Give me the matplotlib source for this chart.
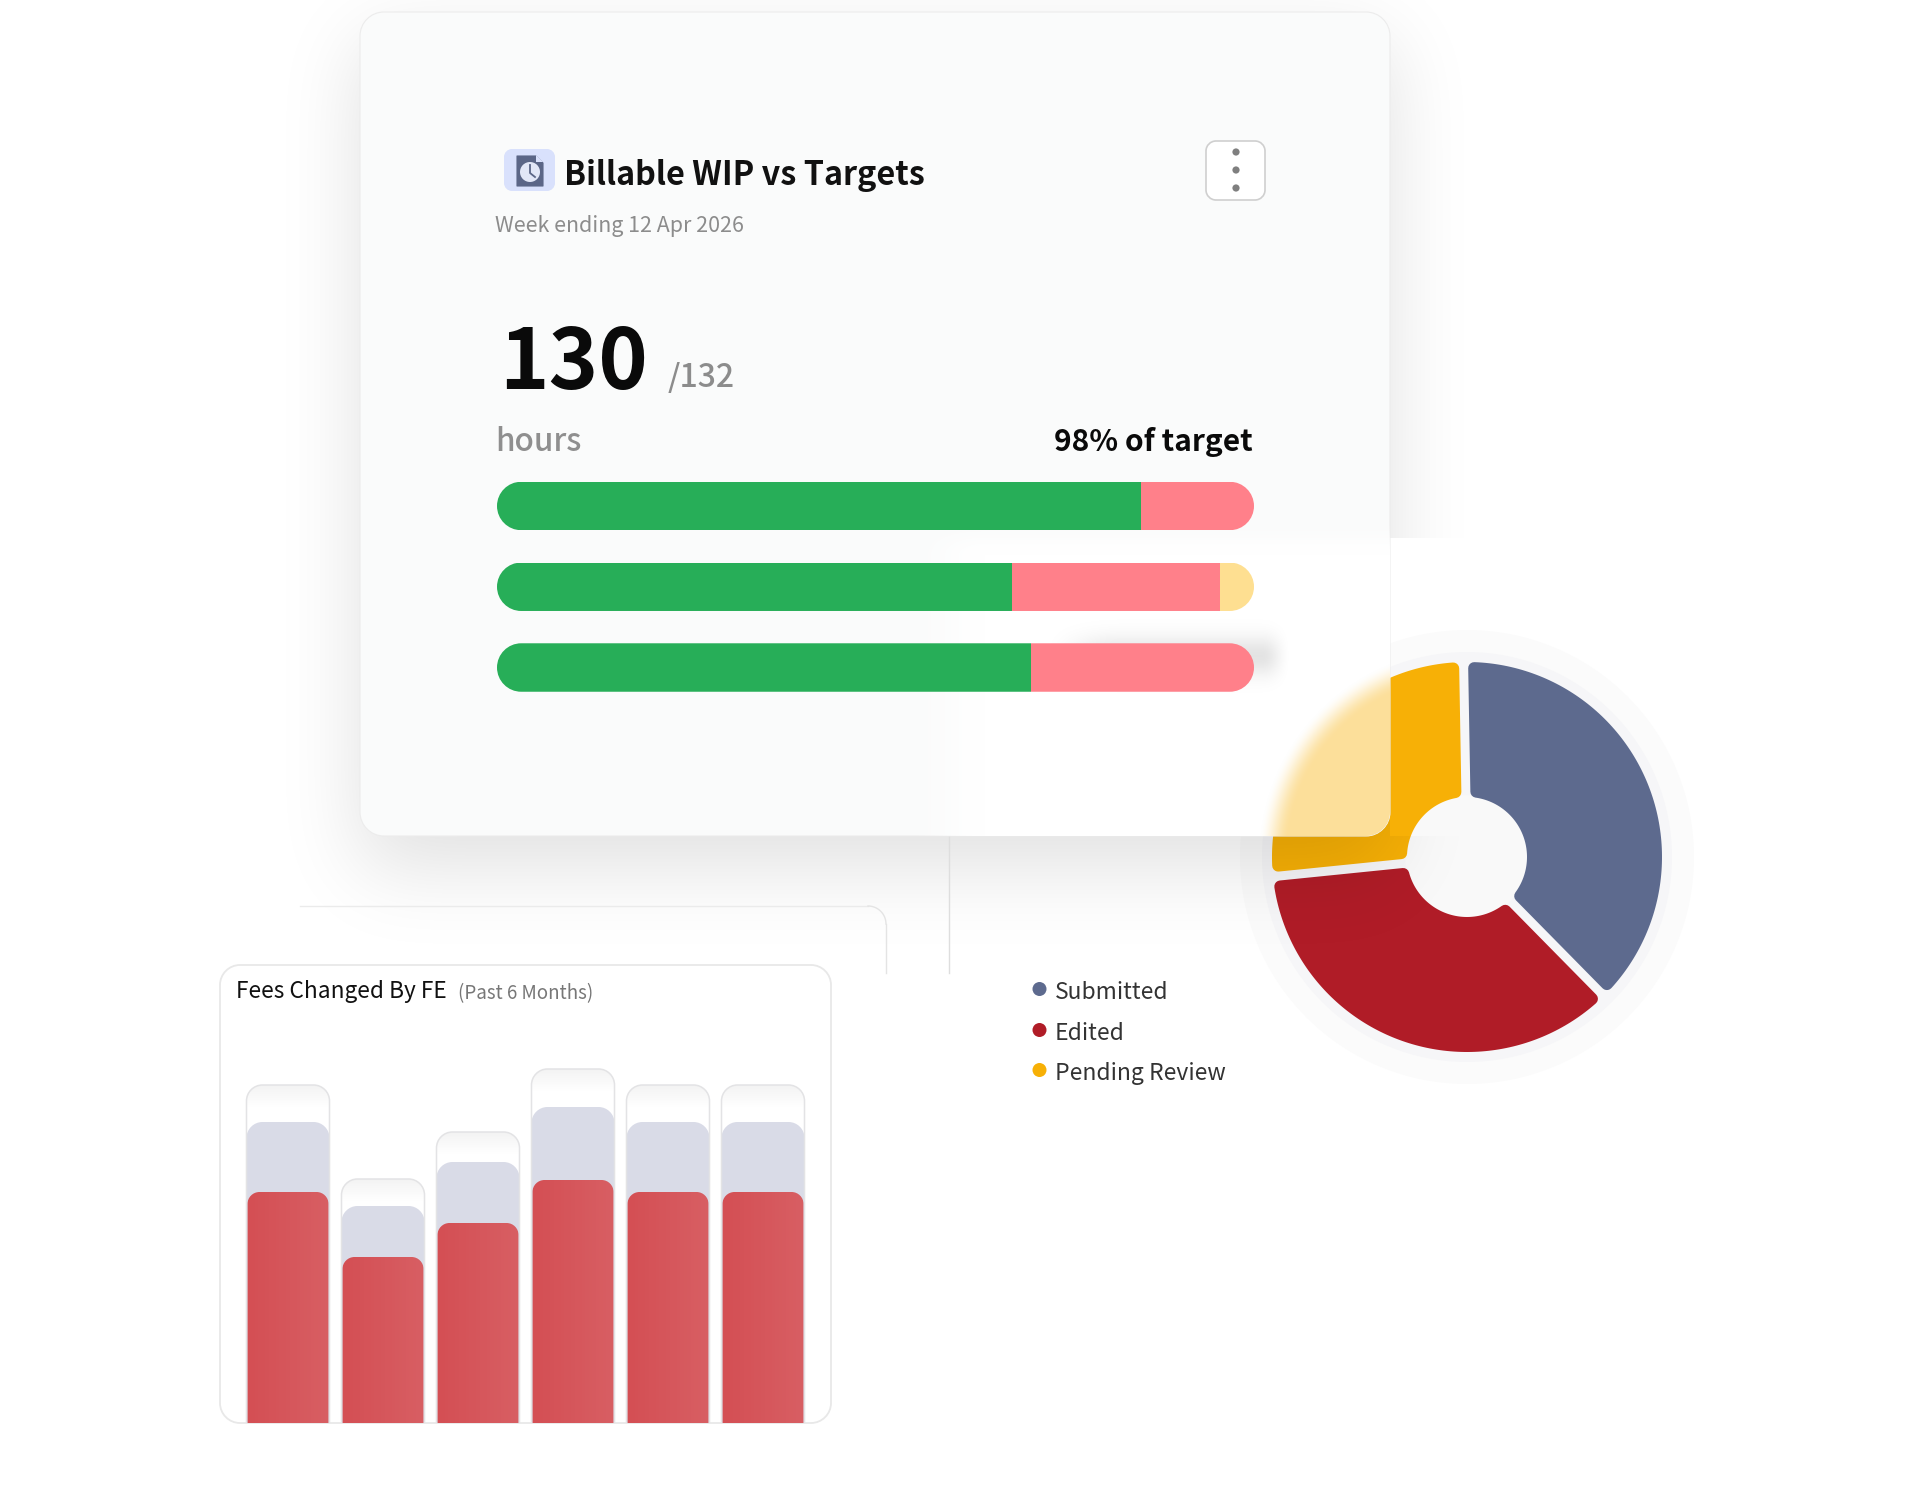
import math
import numpy as np
import matplotlib
matplotlib.use('Agg')
import matplotlib.pyplot as plt
from matplotlib.patches import PathPatch, Circle, Polygon
from matplotlib.path import Path
from matplotlib.transforms import IdentityTransform

plt.rcParams['font.family'] = ['Noto Sans CJK JP', 'DejaVu Sans']

W, H = 1920, 1493

# progress bars, percent of bar length
bar_green = [85.1, 68.0, 70.5]
bar_red = [14.9, 27.5, 29.5]
bar_yellow = [0.0, 4.5, 0.0]

# donut
donut_labels = ['Submitted', 'Edited', 'Pending Review']
donut_values = [37.9, 35.77, 26.33]
donut_colors = ['#5d6a8e', '#b01c27', '#f7b006']

fees_outline = [338, 244, 291, 354, 338, 338]
fees_grey = [301, 217, 261, 316, 301, 301]
fees_red = [231, 166, 200, 243, 231, 231]

fig = plt.figure(figsize=(W / 100, H / 100), dpi=100, facecolor='white')


def px_axes(x0, y0, x1, y1, z):
    ax = fig.add_axes([x0 / W, 1 - y1 / H, (x1 - x0) / W, (y1 - y0) / H])
    ax.set_zorder(z)
    ax.patch.set_visible(False)
    ax.set_axis_off()
    return ax


def rrect(x0, y0, x1, y1, r, **kw):
    # true circular corners
    k = r * 0.4477
    verts = [(x0 + r, y0), (x1 - r, y0), (x1 - k, y0), (x1, y0 + k), (x1, y0 + r),
             (x1, y1 - r), (x1, y1 - k), (x1 - k, y1), (x1 - r, y1),
             (x0 + r, y1), (x0 + k, y1), (x0, y1 - k), (x0, y1 - r),
             (x0, y0 + r), (x0, y0 + k), (x0 + k, y0), (x0 + r, y0), (x0 + r, y0)]
    codes = [Path.MOVETO, Path.LINETO, Path.CURVE4, Path.CURVE4, Path.CURVE4,
             Path.LINETO, Path.CURVE4, Path.CURVE4, Path.CURVE4,
             Path.LINETO, Path.CURVE4, Path.CURVE4, Path.CURVE4,
             Path.LINETO, Path.CURVE4, Path.CURVE4, Path.CURVE4, Path.CLOSEPOLY]
    return PathPatch(Path(verts, codes), **kw)


def norm_cdf(v, s):
    return 0.5 * (1 + np.array([math.erf(t / (s * 2 ** 0.5)) for t in v]))


def smooth(v, a, b):
    t = np.clip((v - a) / (b - a), 0, 1)
    return t * t * (3 - 2 * t)


def rgba_image(color, alpha):
    img = np.zeros(alpha.shape + (4,))
    img[..., :3] = matplotlib.colors.to_rgb(color)
    img[..., 3] = alpha
    return img


# background layer with the halo round the donut
bg = px_axes(0, 0, W, H, 0)
bg.set_xlim(0, W)
bg.set_ylim(H, 0)
cx, cy, R, r_in = 1467, 857, 195, 60
bg.add_patch(Circle((cx, cy), 227, fc='#fbfbfb', ec='none'))
bg.add_patch(Circle((cx, cy), 205, fc='#f6f6f8', ec='none'))
bg.add_patch(Circle((cx, cy), r_in + 2, fc='#f9f9f9', ec='none', zorder=5))

# donut
side = 2.5 * R
dn = px_axes(cx - side / 2, cy - side / 2, cx + side / 2, cy + side / 2, 1)
wedges, _ = dn.pie(donut_values, colors=donut_colors, startangle=91,
                   counterclock=False, radius=1, wedgeprops=dict(width=1 - r_in / R))
dn.set_xlim(-1.25, 1.25)
dn.set_ylim(-1.25, 1.25)
corner = 6
gap = 4.5
for w, col in zip(wedges, donut_colors):
    w.set_visible(False)
    ro = (R - corner) / R
    ri = (r_in + corner) / R
    d = (gap + corner) / R
    ao = np.degrees(np.arcsin(d / ro))
    ai = np.degrees(np.arcsin(d / ri))
    outer = np.radians(np.linspace(w.theta1 + ao, w.theta2 - ao, 120))
    inner = np.radians(np.linspace(w.theta2 - ai, w.theta1 + ai, 60))
    pts = np.vstack([np.c_[ro * np.cos(outer), ro * np.sin(outer)],
                     np.c_[ri * np.cos(inner), ri * np.sin(inner)]])
    dn.add_patch(Polygon(pts, closed=True, fc=col, ec=col, lw=2 * corner * 0.72,
                         joinstyle='round'))

# top layer: shadow, cards, text
ov = px_axes(0, 0, W, H, 2)
xs = np.arange(W) + 0.5
ys = np.arange(H) + 0.5
card = (360, 12, 1390, 836)

sx = norm_cdf(xs - card[0], 40) - norm_cdf(xs - card[2], 40)
sy = norm_cdf(ys - card[1] - 30, 42) - norm_cdf(ys - card[3] - 30, 42)
shadow = 0.125 * np.outer(sy, sx)
shadow[538:836, 1390:] = 0
ov.imshow(rgba_image('black', shadow), extent=(0, W, H, 0), aspect='auto', zorder=1)

# ghost panel lines behind the fees card
ov.plot([300, 868], [906, 906], color='#ebebeb', lw=1, zorder=2)
t = np.linspace(0, np.pi / 2, 20)
ov.plot(868 + 18 * np.sin(t), 924 - 18 * np.cos(t), color='#e4e4e4', lw=1, zorder=2)
ov.plot([886, 886], [924, 973], color='#e4e4e4', lw=1, zorder=2)
ov.plot([949, 949], [836, 973], color='#dedede', lw=1, zorder=2)

ov.add_patch(rrect(card[0], card[1], card[2], card[3], 24, fc='#fafbfb', ec='#ececec', lw=0.8, zorder=3))
card_clip = rrect(card[0], card[1], card[2], card[3], 24, fc='none', ec='none', transform=ov.transData)
ov.add_patch(card_clip)

# frosted part of the card
glass = np.outer(smooth(ys, 520, 555), smooth(xs, 905, 985))
im = ov.imshow(rgba_image('white', glass), extent=(0, W, H, 0), aspect='auto', zorder=4)
im.set_clip_path(card_clip)

gx, gy = np.meshgrid(xs, ys)
dist = np.hypot(gx - cx, gy - cy)
frost = 1 - smooth(dist, R - 16, R + 14)
frost[:, :1040] = 0
im = ov.imshow(rgba_image('#fcdf9a', frost), extent=(0, W, H, 0), aspect='auto', zorder=5)
im.set_clip_path(card_clip)

# soft shadow behind the third progress bar
blob = 0.11 * np.outer(np.exp(-((ys - 656) / 20) ** 2),
                       smooth(xs, 1040, 1120) * (1 - smooth(xs, 1262, 1292)))
ov.imshow(rgba_image('black', blob), extent=(0, W, H, 0), aspect='auto', zorder=6)

# fees card
ov.add_patch(rrect(220, 965, 831, 1423, 20, fc='white', ec='#e8e8e8', lw=1.3, zorder=7))

# icon
ov.add_patch(rrect(504, 149, 555, 191, 8, fc='#d9e1fc', ec='none', zorder=8))
ov.add_patch(Polygon([(517, 156), (536, 156), (543, 163), (543, 186), (517, 186)], fc='#5b6687', ec='#5b6687', lw=0.8, zorder=9, joinstyle='round'))
ov.add_patch(Polygon([(536, 155), (543, 162), (536, 162)], fc='#d9e1fc', ec='none', zorder=10))
ov.add_patch(Circle((530, 172), 10, fc='#e2e7f7', ec='none', zorder=10))
ov.plot([530, 530, 535], [165, 173, 177], color='#5b6687', lw=1.3, zorder=11)

# menu button
ov.add_patch(rrect(1206, 141, 1265, 200, 10, fc='white', ec='#cfcfcf', lw=1.2, zorder=8))
for y in [152, 170, 188]:
    ov.add_patch(Circle((1236, y), 3.6, fc='#7f7f7f', ec='none', zorder=9))

# text
ov.text(564, 185, 'Billable WIP vs Targets', fontsize=23.3, fontweight='bold', color='#111111', zorder=12)
ov.text(495, 232, 'Week ending 12 Apr 2026', fontsize=15.4, color='#8c8c8c', zorder=12)
ov.text(499, 389, '130', fontsize=60.5, fontweight='bold', color='#0a0a0a', zorder=12)
ov.text(668, 387, '/132', fontsize=23, fontweight='medium', color='#8c8c8c', zorder=12)
ov.text(495, 451, 'hours', fontsize=22.7, fontweight='medium', color='#8f8f8f', zorder=12)
ov.text(1253, 451, '98% of target', fontsize=21.5, fontweight='bold', color='#0a0a0a', ha='right', zorder=12)
ov.text(236, 998, 'Fees Changed By FE', fontsize=16.3, color='#111111', zorder=12)
ov.text(458, 999, '(Past 6 Months)', fontsize=13.5, color='#777777', zorder=12)

for y, lab, col in zip([989, 1030, 1070], donut_labels, donut_colors):
    ov.add_patch(Circle((1039.5, y), 7, fc=col, ec='none', zorder=12))
    ov.text(1055, y + 10, lab, fontsize=16.5, color='#333333', zorder=12)

ov.set_xlim(0, W)
ov.set_ylim(H, 0)

# progress bars
pb = px_axes(497, 465.6, 1254, 707.9, 3)
pb.set_xlim(0, 100)
pb.set_ylim(2.5, -0.5)
rows = np.arange(len(bar_green))
pb_h = 0.6
b1 = pb.barh(rows, bar_green, height=pb_h, color='#27ae58')
b2 = pb.barh(rows, bar_red, left=bar_green, height=pb_h, color='#ff808a')
b3 = pb.barh(rows, bar_yellow, left=np.add(bar_green, bar_red), height=pb_h, color='#fedf91')
fig.canvas.draw()
for i in rows:
    e = b1[i].get_window_extent()
    right = pb.transData.transform((100, 0))[0]
    clip = rrect(e.x0, e.y0, right, e.y1, e.height / 2, transform=IdentityTransform())
    for c in (b1, b2, b3):
        c[i].set_clip_path(clip)

# fees bars
fb = px_axes(240.5, 1023, 810.5, 1423, 3)
fb.set_xlim(-0.5, 5.5)
fb.set_ylim(0, 400)
idx = np.arange(len(fees_red))
o_bars = fb.bar(idx, fees_outline, width=0.874, color='white')
g_bars = fb.bar(idx, fees_grey, width=0.874, color='#d9dbe7')
r_bars = fb.bar(idx, fees_red, width=0.853, color='#d44f54')
fig.canvas.draw()


def round_top(bar, r):
    e = bar.get_window_extent()
    return rrect(e.x0, e.y0 - 30, e.x1, e.y1, r, transform=IdentityTransform())


ramp = np.linspace(0, 0.09, 64).reshape(1, -1)
top_fade = np.linspace(0.05, 0, 32).reshape(-1, 1)
for o, g, b in zip(o_bars, g_bars, r_bars):
    o.set_clip_path(round_top(o, 16))
    g.set_clip_path(round_top(g, 16))
    b.set_clip_path(round_top(b, 12))
    x0, x1 = b.get_x(), b.get_x() + b.get_width()
    im = fb.imshow(rgba_image('white', ramp), extent=(x0, x1, 0, b.get_height()), aspect='auto',
                   interpolation='bilinear', zorder=3)
    im.set_clip_path(round_top(b, 12))
    x0, x1 = o.get_x(), o.get_x() + o.get_width()
    im = fb.imshow(rgba_image('black', top_fade), extent=(x0, x1, o.get_height() - 24, o.get_height()),
                   aspect='auto', interpolation='bilinear', zorder=3)
    im.set_clip_path(round_top(o, 16))
    e = o.get_window_extent()
    fb.add_patch(rrect(e.x0, e.y0 - 30, e.x1, e.y1, 16, fc='none', ec='#e3e3e5', lw=1.1,
                       transform=IdentityTransform(), zorder=4))
fb.set_xlim(-0.5, 5.5)
fb.set_ylim(0, 400)

fig.savefig('out.png', dpi=100, facecolor='white')
